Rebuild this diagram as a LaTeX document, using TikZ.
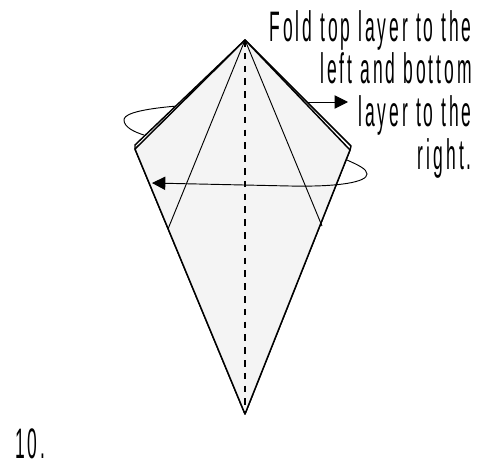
\documentclass[tikz,border=0pt]{standalone}
\usepackage{fontspec}
\setmainfont[FakeStretch=0.41,LetterSpace=7]{Liberation Sans}
\usetikzlibrary{arrows.meta}
\definecolor{paper}{gray}{0.955}

\begin{document}
\begin{tikzpicture}[x=0.75pt,y=-0.75pt,>={Triangle[length=10pt,width=10pt]},
 edge/.style={line width=1.1pt,line join=round},
 crease/.style={line width=0.7pt},
 foldline/.style={line width=0.9pt,dash pattern=on 5pt off 4.6pt},
 turn/.style={line width=0.7pt},
 lbl/.style={inner sep=0pt,font=\fontsize{32}{32}\selectfont}]
\useasboundingbox (0,0) rectangle (478,467);
% corners of the kite
\coordinate (apex) at (245,40);
\coordinate (leftback) at (135,145);
\coordinate (leftfront) at (135,149);
\coordinate (rightback) at (351,146);
\coordinate (rightfront) at (350,150);
\coordinate (tip) at (245,414);
\coordinate (leftcrease) at (168,229);
\coordinate (rightcrease) at (322,226);
% arrows going behind the paper
\draw[turn] (177,106) .. controls (130,110) and (124,116) .. (124,120) .. controls (124,127) and (134,132) .. (144,135);
\draw[turn,->] (300,102) -- (348,102);
% paper
\draw[edge,fill=white] (apex) -- (leftback) -- (leftfront) -- (tip) -- (rightfront) -- (rightback) -- cycle;
\draw[edge,fill=paper] (apex) -- (leftfront) -- (tip) -- (rightfront) -- cycle;
\draw[crease] (apex) -- (leftcrease);
\draw[crease] (apex) -- (rightcrease);
\draw[foldline] (apex) -- (tip);
% long arrow over the front
\coordinate (arrowend) at (152,183);
\draw[turn,->] (347,160) .. controls (358,165) and (367,169) .. (367,174) .. controls (367,182) and (340,187) .. (290,186) -- (arrowend);
\node[lbl,anchor=north east,align=right] (note) at (472,10) {Fold top layer to the\\left and bottom\\layer to the\\right.};
\node[lbl,anchor=base west] (number) at (15,458) {10.};
\end{tikzpicture}
\end{document}
